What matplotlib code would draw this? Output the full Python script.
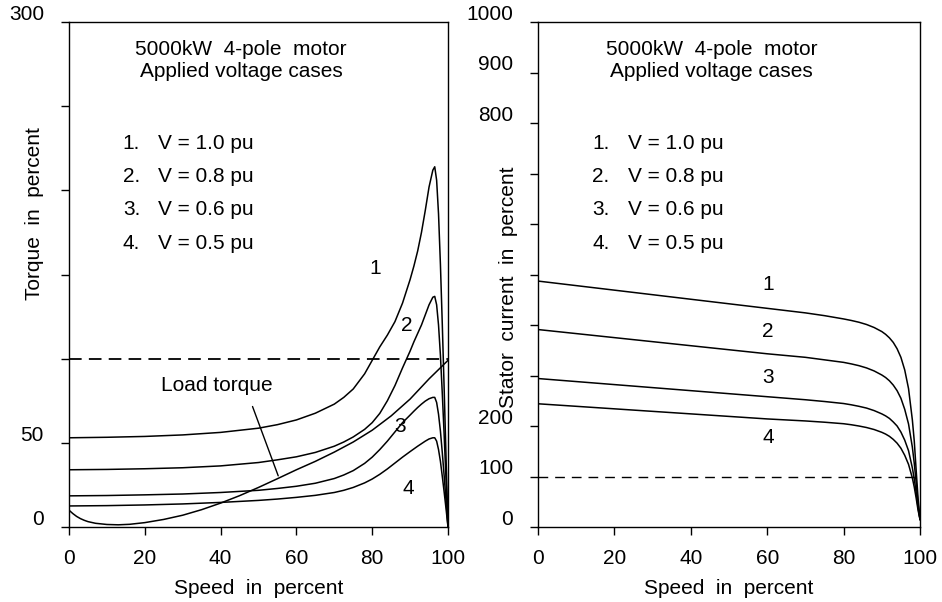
import matplotlib
matplotlib.use('Agg')
import matplotlib.pyplot as plt
from matplotlib.transforms import ScaledTranslation

plt.rcParams['font.family'] = ['Liberation Sans', 'DejaVu Sans']

# --- torque vs speed (left) ---
speed_t = [0, 10, 20, 30, 40, 50, 55, 60, 65, 70, 72.5, 75, 78, 80, 82, 84, 86, 88, 90, 91, 92, 93,
           94, 95, 96, 96.5, 97, 97.5, 98, 98.5, 99, 99.5, 100]
torque_1 = [53, 53.3, 53.8, 54.7, 56.2, 58.7, 60.8, 63.6, 67.6, 73, 77, 82, 91, 99, 107, 114, 122,
            133, 147, 155, 164, 175, 188, 202, 212, 214, 206, 186, 156, 120, 81, 40, 0]
torque_2 = [34, 34.2, 34.6, 35.2, 36.3, 38.3, 39.9, 41.7, 44.3, 48, 50.5, 53.5, 58, 62, 67.5, 75,
            84, 94.5, 104.5, 110, 115, 120, 126, 132, 136.5, 137, 132, 120, 102, 79, 54, 27, 0]
torque_3 = [18.5, 18.7, 19.1, 19.6, 20.5, 21.8, 22.9, 24.2, 26, 28.8, 30.9, 33.5, 37.8, 41.5, 46,
            51, 56.5, 62, 66.5, 68.8, 71, 73, 74.8, 76.2, 77, 77, 74, 67, 57, 44, 30, 15, 0]
torque_4 = [12.5, 12.7, 13.1, 13.7, 14.6, 15.8, 16.6, 17.6, 18.8, 20.5, 21.8, 23.5, 26.2, 28.5,
            31.3, 34.5, 38, 41.5, 44.8, 46.4, 48, 49.5, 51, 52.3, 53, 53, 51, 46, 39, 30, 20.5,
            10.5, 0]

speed_load = [0, 1, 2, 3, 4, 5, 7, 10, 13, 16, 20, 25, 30, 35, 40, 45, 50, 55, 60, 65, 70,
              75, 80, 85, 90, 95, 100]
load_torque = [10, 8, 6.3, 5, 4, 3.2, 2.2, 1.5, 1.3, 1.6, 2.6, 4.5, 7, 10.3, 14.2, 18.6, 23.5,
               28.7, 34, 39, 44.5, 50.5, 57.5, 66, 76, 88, 99]

# --- stator current vs speed (right) ---
speed_i = [0, 10, 20, 30, 40, 50, 60, 70, 75, 80, 82, 84, 86, 88, 90, 91, 92, 93, 94, 95, 96,
           97, 98, 98.5, 99, 99.5, 100]
current_1 = [487, 478, 469, 460, 451, 442, 433, 424, 418.5, 412, 409, 405.5, 401, 395, 387,
             381.5, 374.5, 365.5, 353, 336, 311, 274, 212, 170, 112, 56, 15]
current_2 = [391, 383, 375, 367, 359, 351, 343, 336, 331, 326, 323, 319.5, 315, 309, 301, 296,
             289.5, 281, 270, 255, 233, 204, 158, 126, 88, 46, 15]
current_3 = [294, 288, 282, 276, 270, 264, 258, 252, 248.5, 244.5, 242, 239, 235.5, 230.5, 224,
             220, 215, 208, 200, 188, 172, 151, 117, 95, 68, 38, 15]
current_4 = [244, 239, 234, 229, 224, 219, 214, 210, 207.5, 204.5, 202.5, 200, 197, 193, 187.5,
             184, 179.5, 173.5, 166, 156, 142, 124, 97, 79, 57, 33, 15]

x_ticks = [0, 20, 40, 60, 80, 100]
t_ticks = [0, 50, 100, 150, 200, 250, 300]
t_tick_labels = ['0', '50', '', '', '', '', '300']
i_ticks = [0, 100, 200, 300, 400, 500, 600, 700, 800, 900, 1000]
i_tick_labels = ['0', '100', '200', '', '', '', '', '', '800', '900', '1000']

cases = ['1.', '2.', '3.', '4.']
volts = ['V = 1.0 pu', 'V = 0.8 pu', 'V = 0.6 pu', 'V = 0.5 pu']

FS = 15

fig = plt.figure(figsize=(9.42, 6.02), dpi=100)
ax1 = fig.add_axes([69/942, 1-527/602, 379/942, 505/602])
ax2 = fig.add_axes([538/942, 1-527/602, 382/942, 505/602])


def style_axes(ax, yticks, ylabels, ylabel, label_xy):
    ax.set_xlim(0, 100)
    ax.set_xticks(x_ticks)
    ax.set_yticks(yticks)
    ax.set_yticklabels(ylabels)
    ax.tick_params(direction='out', length=6, width=1, labelsize=FS, color='black')
    ax.tick_params(axis='y', pad=12)
    ax.tick_params(axis='x', pad=10)
    for s in ax.spines.values():
        s.set_linewidth(1.0)
    ax.set_xlabel('Speed  in  percent', fontsize=FS, labelpad=8)
    ax.set_ylabel(ylabel, fontsize=FS)
    ax.yaxis.set_label_coords(*label_xy)
    # labels sit a bit above their ticks in the original
    off = ScaledTranslation(0, 7/72, fig.dpi_scale_trans)
    for lab in ax.get_yticklabels():
        lab.set_transform(lab.get_transform() + off)
    # header and voltage list
    tr = ax.transAxes
    ax.text(0.454, 0.945, '5000kW  4-pole  motor', transform=tr, ha='center', va='center', fontsize=FS)
    ax.text(0.454, 0.901, 'Applied voltage cases', transform=tr, ha='center', va='center', fontsize=FS)
    for k, (c, v) in enumerate(zip(cases, volts)):
        yy = 0.760 - k*0.066
        ax.text(0.142, yy, c, transform=tr, ha='left', va='center', fontsize=FS)
        ax.text(0.235, yy, v, transform=tr, ha='left', va='center', fontsize=FS)


lw = 1.1
ax1.set_ylim(0, 300)
for y in (torque_1, torque_2, torque_3, torque_4):
    ax1.plot(speed_t, y, color='black', lw=lw)
ax1.plot(speed_load, load_torque, color='black', lw=lw)
ax1.axhline(100, color='black', lw=1.3, ls=(0, (7, 4)))
ax1.annotate('Load torque', xy=(55.2, 30.4), xytext=(39, 84), fontsize=FS,
             ha='center', va='center',
             arrowprops=dict(arrowstyle='-', color='black', lw=1.0, shrinkA=0, shrinkB=0,
                             relpos=(0.82, -0.6)))
for lab, xx, yy in (('1', 80.7, 153.6), ('2', 89.1, 119.6), ('3', 87.3, 60), ('4', 89.4, 23)):
    ax1.text(xx, yy, lab, fontsize=FS, ha='center', va='center')
style_axes(ax1, t_ticks, t_tick_labels, 'Torque  in  percent', (-0.066, 0.62))

ax2.set_ylim(0, 1000)
for y in (current_1, current_2, current_3, current_4):
    ax2.plot(speed_i, y, color='black', lw=lw)
ax2.axhline(100, color='black', lw=1.0, ls=(0, (7, 5)))
for lab, xx, yy in (('1', 60.2, 480), ('2', 60.2, 387), ('3', 60.2, 296), ('4', 60.2, 177)):
    ax2.text(xx, yy, lab, fontsize=FS, ha='center', va='center')
style_axes(ax2, i_ticks, i_tick_labels, 'Stator  current  in  percent', (-0.052, 0.475))

fig.savefig('out.png', dpi=100)
